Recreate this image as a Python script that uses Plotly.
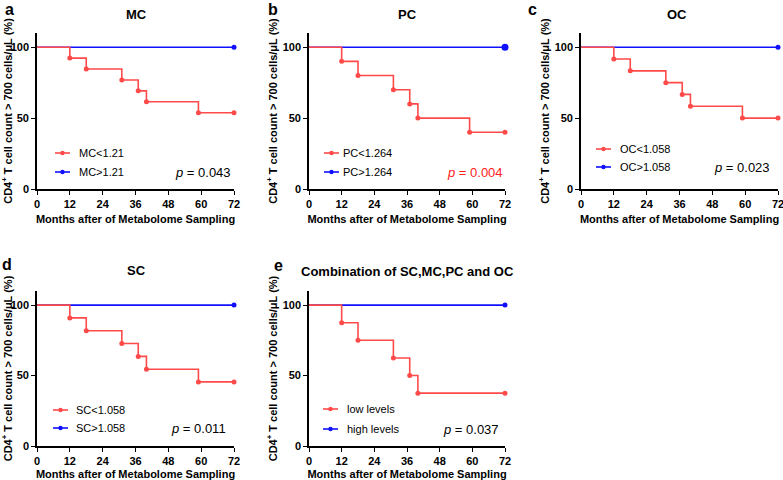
import plotly.graph_objects as go

# ---- data ----
months_ticks = [0, 12, 24, 36, 48, 60, 72]
y_ticks = [0, 50, 100]

event_times = [12, 18, 31, 37, 40, 59]
end_time = 72

panel_letters = ["a", "b", "c", "d", "e"]
panel_titles = ["MC", "PC", "OC", "SC", "Combination of SC,MC,PC and OC"]
low_names = ["MC<1.21", "PC<1.264", "OC<1.058", "SC<1.058", "low levels"]
high_names = ["MC>1.21", "PC>1.264", "OC>1.058", "SC>1.058", "high levels"]
p_values = ["0.043", "0.004", "0.023", "0.011", "0.037"]
p_colors = ["black", "#FF2020", "black", "black", "black"]

# survival after each event (low group)
low_mc = [92.3, 84.6, 76.9, 69.2, 61.5, 53.8]
low_pc = [90.0, 80.0, 70.0, 60.0, 50.0, 40.0]
low_oc = [91.7, 83.3, 75.0, 66.7, 58.3, 50.0]
low_sc = [90.9, 81.8, 72.7, 63.6, 54.5, 45.5]
low_comb = [87.5, 75.0, 62.5, 50.0, 37.5]
low_series = [low_mc, low_pc, low_oc, low_sc, low_comb]
high_value = 100.0

RED = "#FF4A4A"
BLUE = "#1010FF"
W, H = 783, 480
FONT = "Liberation Sans"

# pixel layout of plot areas (x0, x1, ytop, ybottom)
areas = [
    (37, 234, 33, 189),
    (309, 505, 33, 189),
    (581, 778, 33, 189),
    (37, 234, 291, 446),
    (309, 505, 291, 446),
]
legend_pos = [  # (line x0 rel, text x rel, y1, y2)
    (18, 40, 153, 172),
    (15, 32, 153, 172),
    (15, 37, 149, 167),
    (16, 37, 410, 428),
    (14, 36, 409, 429),
]
p_pos = [(233, 172), (505, 172), (772, 167), (228, 428), (501, 429)]
title_pos = [(136, 14), (407, 14), (677, 14), (136, 270), (407, 271)]
letter_pos = [(9, 9), (273, 9), (532, 9), (7, 264), (278, 265)]

fig = go.Figure()
shapes = []
annotations = []

def px(x):
    return x / W

def py(y):
    return 1 - y / H

for i in range(5):
    ax = "" if i == 0 else str(i + 1)
    xa, ya = "x" + ax, "y" + ax
    vals = low_series[i]
    times = event_times[:len(vals)]
    # step data for low group
    xs = [0] + times + [end_time]
    ys = [100.0] + vals + [vals[-1]]
    # high group
    fig.add_trace(go.Scatter(x=[0, end_time], y=[high_value, high_value], mode="lines",
                             line=dict(color=BLUE, width=1.6, shape="hv"),
                             xaxis=xa, yaxis=ya, showlegend=False, cliponaxis=False,
                             name=high_names[i]))
    fig.add_trace(go.Scatter(x=[end_time], y=[high_value], mode="markers",
                             marker=dict(color=BLUE, size=7 if i == 1 else 5),
                             xaxis=xa, yaxis=ya, showlegend=False, cliponaxis=False,
                             name=high_names[i]))
    fig.add_trace(go.Scatter(x=xs, y=ys, mode="lines",
                             line=dict(color=RED, width=1.6, shape="hv"),
                             xaxis=xa, yaxis=ya, showlegend=False, cliponaxis=False,
                             name=low_names[i]))
    fig.add_trace(go.Scatter(x=times + [end_time], y=vals + [vals[-1]], mode="markers",
                             marker=dict(color=RED, size=5),
                             xaxis=xa, yaxis=ya, showlegend=False, cliponaxis=False,
                             name=low_names[i]))

    x0, x1, yt, yb = areas[i]
    common = dict(showline=True, linecolor="black", linewidth=1.6, ticks="outside",
                  ticklen=4, tickwidth=1.4, tickcolor="black", showgrid=False, zeroline=False,
                  automargin=False, ticklabeloverflow="allow",
                  tickfont=dict(family=FONT, size=11, color="black", weight="bold"))
    fig.update_layout(**{
        "xaxis" + ax: dict(domain=[px(x0), px(x1)], range=[0, 72], tickvals=months_ticks,
                           anchor=ya,
                           title=dict(text="Months after of Metabolome Sampling",
                                      font=dict(family=FONT, size=11, color="black", weight="bold"),
                                      standoff=6),
                           **common),
        "yaxis" + ax: dict(domain=[py(yb), py(yt)], range=[0, 110], tickvals=y_ticks,
                           anchor=xa,
                           title=dict(text="CD4<sup>+</sup> T cell count > 700 cells/μL (%)",
                                      font=dict(family=FONT, size=11, color="black", weight="bold"),
                                      standoff=3),
                           **common),
    })

    # legend (manual)
    lx0, ltx, ly1, ly2 = legend_pos[i]
    for (yy, col, nm) in [(ly1, RED, low_names[i]), (ly2, BLUE, high_names[i])]:
        shapes.append(dict(type="line", xref="paper", yref="paper",
                           x0=px(x0 + lx0), x1=px(x0 + lx0 + 15), y0=py(yy), y1=py(yy),
                           line=dict(color=col, width=1.6)))
        cx = x0 + lx0 + 7.5
        shapes.append(dict(type="circle", xref="paper", yref="paper",
                           x0=px(cx - 2.2), x1=px(cx + 2.2), y0=py(yy + 2.2), y1=py(yy - 2.2),
                           fillcolor=col, line=dict(color=col, width=0)))
        annotations.append(dict(text=nm, xref="paper", yref="paper", x=px(x0 + ltx), y=py(yy),
                                xanchor="left", yanchor="middle", showarrow=False,
                                font=dict(family=FONT, size=11, color="black")))
    # p value
    ppx, ppy = p_pos[i]
    annotations.append(dict(text="<i>p</i> = " + p_values[i], xref="paper", yref="paper",
                            x=px(ppx), y=py(ppy), xanchor="right", yanchor="middle",
                            showarrow=False,
                            font=dict(family=FONT, size=13, color=p_colors[i])))
    # title
    tx, ty = title_pos[i]
    annotations.append(dict(text=panel_titles[i], xref="paper", yref="paper",
                            x=px(tx), y=py(ty), xanchor="center", yanchor="middle",
                            showarrow=False,
                            font=dict(family=FONT, size=13, color="black", weight="bold")))
    lx, lyy = letter_pos[i]
    annotations.append(dict(text=panel_letters[i], xref="paper", yref="paper",
                            x=px(lx), y=py(lyy), xanchor="center", yanchor="middle",
                            showarrow=False,
                            font=dict(family=FONT, size=16, color="black", weight="bold")))

fig.update_layout(width=W, height=H, margin=dict(l=0, r=0, t=0, b=0),
                  paper_bgcolor="white", plot_bgcolor="white",
                  shapes=shapes, annotations=annotations, showlegend=False)
fig.write_html("out.html", config={"displayModeBar": False},
               post_script="document.body.style.margin='0px';")
